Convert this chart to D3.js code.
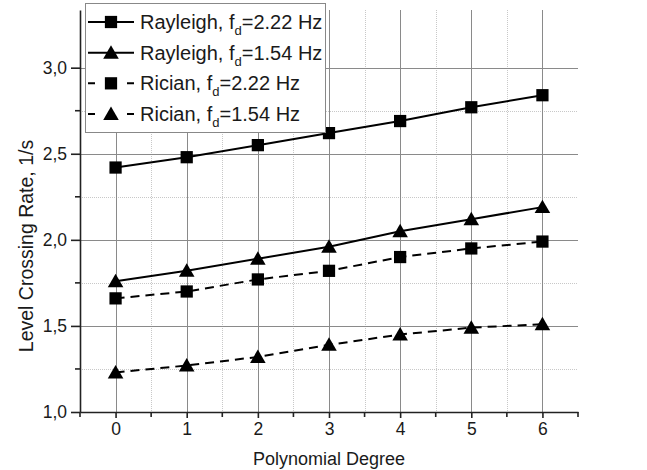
<!DOCTYPE html>
<meta charset="utf-8">
<style>
body { margin: 0; background: #fff; }
svg text { font-family: "Liberation Sans", Arial, sans-serif; fill: #1a1a1a; }
.grid-major { stroke: #8a8a8a; stroke-width: 1; }
.grid-minor { stroke: #c8c8c8; stroke-width: 1; stroke-dasharray: 1,1; }
.axis path, .axis line { stroke: #222; stroke-width: 1.6; }
.series { fill: none; stroke: #000; stroke-width: 2; }
</style>
<svg id="chart" width="647" height="470"></svg>
<script src="https://cdn.jsdelivr.net/npm/d3@7"></script>
<script>

let degrees = [0, 1, 2, 3, 4, 5, 6];
let rayleigh222 = [2.42, 2.48, 2.55, 2.62, 2.69, 2.77, 2.84];
let rayleigh154 = [1.76, 1.82, 1.89, 1.96, 2.05, 2.12, 2.19];
let rician222 = [1.66, 1.70, 1.77, 1.82, 1.90, 1.95, 1.99];
let rician154 = [1.23, 1.27, 1.32, 1.39, 1.45, 1.49, 1.51];

let yTicks = [1.0, 1.5, 2.0, 2.5, 3.0];
let yMinor = [1.25, 1.75, 2.25, 2.75];
let xMinor = [-0.5, 0.5, 1.5, 2.5, 3.5, 4.5, 5.5, 6.5];

let series = [
  {name: "Rayleigh, ", fd: "2.22", values: rayleigh222, marker: "square", dashed: false},
  {name: "Rayleigh, ", fd: "1.54", values: rayleigh154, marker: "triangle", dashed: false},
  {name: "Rician, ", fd: "2.22", values: rician222, marker: "square", dashed: true},
  {name: "Rician, ", fd: "1.54", values: rician154, marker: "triangle", dashed: true}
];

let mLeft = 80, mRight = 578, mTop = 10, mBottom = 412;

let x = d3.scaleLinear().domain([-0.5, 6.5]).range([mLeft, mRight]);
let y = d3.scaleLinear().domain([1.0, 3.335]).range([mBottom, mTop]);

let svg = d3.select("#chart");

// grid
svg.append("g").selectAll("line")
    .data(yMinor)
  .enter().append("line")
    .attr("class", "grid-minor")
    .attr("x1", mLeft).attr("x2", mRight)
    .attr("y1", d => Math.round(y(d)) + 0.5).attr("y2", d => Math.round(y(d)) + 0.5);

svg.append("g").selectAll("line")
    .data(xMinor.slice(1, -1))
  .enter().append("line")
    .attr("class", "grid-minor")
    .attr("x1", d => Math.round(x(d)) + 0.5).attr("x2", d => Math.round(x(d)) + 0.5)
    .attr("y1", mTop).attr("y2", mBottom);

svg.append("g").selectAll("line")
    .data(yTicks.slice(1))
  .enter().append("line")
    .attr("class", "grid-major")
    .attr("x1", mLeft).attr("x2", mRight)
    .attr("y1", d => Math.round(y(d)) + 0.5).attr("y2", d => Math.round(y(d)) + 0.5);

svg.append("g").selectAll("line")
    .data(degrees)
  .enter().append("line")
    .attr("class", "grid-major")
    .attr("x1", d => Math.round(x(d)) + 0.5).attr("x2", d => Math.round(x(d)) + 0.5)
    .attr("y1", mTop).attr("y2", mBottom);

// axes
let xAxis = svg.append("g")
    .attr("class", "axis")
    .attr("transform", "translate(0," + mBottom + ")")
    .call(d3.axisBottom(x).tickValues(degrees).tickFormat(d3.format("d"))
      .tickSize(6).tickPadding(5).tickSizeOuter(0));
xAxis.selectAll("text").style("font-size", "17.5px");
xAxis.append("g").selectAll("line")
    .data(xMinor)
  .enter().append("line")
    .attr("x1", d => x(d)).attr("x2", d => x(d))
    .attr("y1", 0).attr("y2", 5);

let yAxis = svg.append("g")
    .attr("class", "axis")
    .attr("transform", "translate(" + mLeft + ",0)")
    .call(d3.axisLeft(y).tickValues(yTicks).tickSize(9).tickPadding(4).tickSizeOuter(0)
      .tickFormat(d => d3.format(".1f")(d).replace(".", ",")));
yAxis.selectAll("text").style("font-size", "17.5px");
yAxis.append("g").selectAll("line")
    .data(yMinor)
  .enter().append("line")
    .attr("x1", -5).attr("x2", 0)
    .attr("y1", d => y(d)).attr("y2", d => y(d));

svg.append("text")
    .attr("x", (mLeft + mRight) / 2)
    .attr("y", 465)
    .attr("text-anchor", "middle")
    .style("font-size", "18px")
    .text("Polynomial Degree");

svg.append("text")
    .attr("transform", "translate(33," + 246 + ") rotate(-90)")
    .attr("text-anchor", "middle")
    .style("font-size", "19.5px")
    .text("Level Crossing Rate, 1/s");

// marker shapes
let sq = d3.symbol().type(d3.symbolSquare).size(150);
let tri = d3.symbol().type(d3.symbolTriangle).size(105);
function markerPath(m) { return m === "square" ? sq() : tri(); }

let line = d3.line()
    .x((d, i) => x(degrees[i]))
    .y(d => y(d));

series.forEach(s => {
  svg.append("path")
      .attr("class", "series")
      .attr("d", line(s.values))
      .attr("stroke-dasharray", s.dashed ? "9,6" : null);
  svg.append("g").selectAll("path")
      .data(s.values)
    .enter().append("path")
      .attr("d", markerPath(s.marker))
      .attr("transform", (d, i) => "translate(" + x(degrees[i]) + "," + (y(d) + (s.marker === "triangle" ? 1.5 : 0)) + ")")
      .attr("fill", "#000");
});

// legend
let legend = svg.append("g");
legend.append("rect")
    .attr("x", 85.5).attr("y", 3.5)
    .attr("width", 240).attr("height", 129)
    .attr("fill", "#fff")
    .attr("stroke", "#888")
    .attr("stroke-width", 1);

let rowY = d3.scaleLinear().domain([0, 3]).range([22, 114]);

series.forEach((s, i) => {
  let g = legend.append("g").attr("transform", "translate(0," + rowY(i) + ")");
  g.append("line")
      .attr("x1", 88).attr("x2", 134)
      .attr("stroke", "#000").attr("stroke-width", 2)
      .attr("stroke-dasharray", s.dashed ? "7,32" : null);
  g.append("path")
      .attr("d", markerPath(s.marker))
      .attr("transform", "translate(111," + (s.marker === "triangle" ? 1.5 : 0) + ")")
      .attr("fill", "#000");
  let t = g.append("text")
      .attr("x", 140)
      .attr("y", 7)
      .style("font-size", "20px");
  t.append("tspan").text(s.name + "f");
  t.append("tspan").attr("dy", 6).style("font-size", "13px").text("d");
  t.append("tspan").attr("dy", -6).text("=" + s.fd + " Hz");
});

</script>
